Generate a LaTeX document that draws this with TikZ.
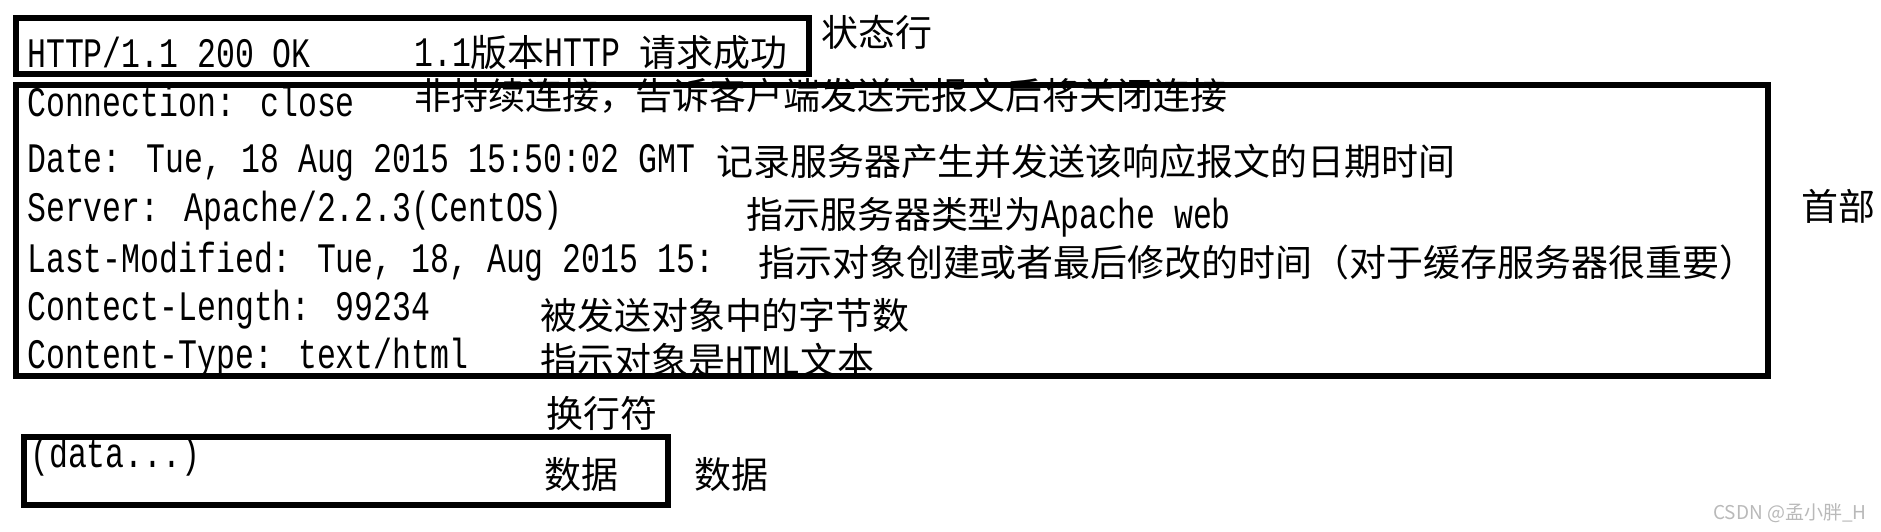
\documentclass[tikz,border=0pt]{standalone}
\usepackage{fontspec}
\setmainfont[FakeStretch=0.75]{Liberation Mono}
\newfontfamily\cjk[Scale=0.88]{Noto Sans CJK SC}
\newfontfamily\wmfont{Noto Sans CJK SC}
\begin{document}
\begin{tikzpicture}[x=1pt, y=-1pt,
  txt/.style={anchor=west, inner sep=0pt, text height=25pt, text depth=0pt, font=\fontsize{42}{46}\selectfont},
  zh/.style={txt, text height=29pt, text depth=1pt},
  frame/.style={draw=black, line width=5.5pt, inner sep=0pt}]

\useasboundingbox (0,0) rectangle (1881,532);

\node[txt] (S) at (27,55) {HTTP/1.1 200 OK};
\node[zh] (Sn) at (414,53) {1.1{\cjk 版本}HTTP {\cjk 请求成功}};
\node[zh] (Sl) at (821,33) {\cjk 状态行};

\node[txt] (C) at (27,104) {Connection: close};
\node[zh] (Cn) at (414,96) {\cjk 非持续连接，告诉客户端发送完报文后将关闭连接};
\node[txt] (D) at (27,160) {Date: Tue, 18 Aug 2015 15:50:02 GMT};
\node[zh] (Dn) at (716,161) {\cjk 记录服务器产生并发送该响应报文的日期时间};
\node[txt] (Sv) at (27,209) {Server: Apache/2.2.3(CentOS)};
\node[zh] (Svn) at (746,214) {{\cjk 指示服务器类型为}Apache web};
\node[txt] (M) at (27,260) {Last-Modified: Tue, 18, Aug 2015 15:};
\node[zh] (Mn) at (758,262) {\cjk 指示对象创建或者最后修改的时间（对于缓存服务器很重要）};
\node[txt] (Len) at (27,308) {Contect-Length: 99234};
\node[zh] (Lenn) at (540,315) {\cjk 被发送对象中的字节数};
\node[txt] (T) at (27,356) {Content-Type: text/html};
\node[zh] (Tn) at (540,360) {{\cjk 指示对象是}HTML{\cjk 文本}};
\node[zh] (H) at (1801,206) {\cjk 首部};

\node[zh] (N) at (546,413) {\cjk 换行符};
\node[txt] (Dt) at (30,455) {(data...)};
\node[zh] (Dtn) at (544,474) {\cjk 数据};
\node[zh] (Dl) at (694,474) {\cjk 数据};

\node[anchor=west, inner sep=0pt, text=gray!55, font=\wmfont\fontsize{19}{20}\selectfont] (W) at (1713,513) {CSDN @孟小胖\_H};

\node[frame, minimum width=793pt, minimum height=56pt] (Lb) at (412.5,46) {};
\node[frame, minimum width=1752pt, minimum height=291pt] (Hb) at (892,230.5) {};
\node[frame, minimum width=644pt, minimum height=68pt] (Db) at (346,471) {};

\end{tikzpicture}
\end{document}
